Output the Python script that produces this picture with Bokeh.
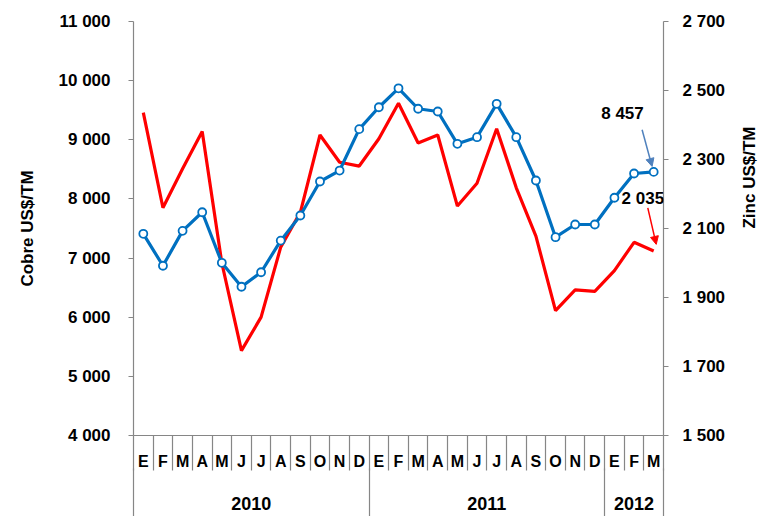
from math import pi
from bokeh.plotting import figure
from bokeh.models import Range1d, LinearAxis, FixedTicker, Label, Arrow, NormalHead
from bokeh.embed import file_html
from bokeh.resources import INLINE

# ---------------- data ----------------
months = ["E", "F", "M", "A", "M", "J", "J", "A", "S", "O", "N", "D",
          "E", "F", "M", "A", "M", "J", "J", "A", "S", "O", "N", "D",
          "E", "F", "M"]
years = ["2010", "2011", "2012"]
year_lengths = [12, 12, 3]

cobre = [7410, 6870, 7460, 7775, 6920, 6515, 6760, 7295, 7720, 8295, 8480, 9180,
         9550, 9870, 9525, 9478, 8932, 9044, 9608, 9044, 8312, 7353, 7568, 7568,
         8020, 8430, 8457]
zinc = [2436, 2160, 2273, 2381, 2000, 1746, 1843, 2046, 2147, 2371, 2292, 2281,
        2360, 2463, 2348, 2371, 2165, 2231, 2389, 2218, 2078, 1862, 1922, 1918,
        1978, 2060, 2035]

cobre_ticks = [4000, 5000, 6000, 7000, 8000, 9000, 10000, 11000]
zinc_ticks = [1500, 1700, 1900, 2100, 2300, 2500, 2700]

last_cobre_label = "8 457"
last_zinc_label = "2 035"

# ---------------- layout ----------------
W, H = 772, 516
FRAME_LEFT, FRAME_RIGHT, FRAME_TOP, FRAME_BOTTOM = 133, 663, 21, 435

FONT = "Liberation Sans"
GRAY = "#868686"
BLUE = "#0070C0"
RED = "#FF0000"

def fmt(v):
    return f"{v:,}".replace(",", " ")

n = len(months)

p = figure(width=W, height=H, output_backend="svg", toolbar_location=None,
           x_axis_type=None, y_axis_type=None,
           x_range=Range1d(-0.5, n - 0.5),
           y_range=Range1d(cobre_ticks[0], cobre_ticks[-1]),
           min_border_left=FRAME_LEFT, min_border_right=W - FRAME_RIGHT,
           min_border_top=FRAME_TOP, min_border_bottom=H - FRAME_BOTTOM)
p.extra_y_ranges = {"zinc": Range1d(zinc_ticks[0], zinc_ticks[-1])}
p.outline_line_color = None
p.xgrid.visible = False
p.ygrid.visible = False

# ---------- value axes ----------
def style_axis(ax, standoff, title_standoff):
    ax.axis_line_color = GRAY
    ax.axis_line_width = 1.2
    ax.major_tick_line_color = GRAY
    ax.major_tick_line_width = 1.2
    ax.major_tick_out = 5
    ax.major_tick_in = 0
    ax.minor_tick_line_color = None
    ax.major_label_text_font = FONT
    ax.major_label_text_font_style = "bold"
    ax.major_label_text_font_size = "17px"
    ax.major_label_text_color = "black"
    ax.major_label_standoff = standoff
    ax.axis_label_text_font = FONT
    ax.axis_label_text_font_style = "bold"
    ax.axis_label_text_font_size = "17px"
    ax.axis_label_text_color = "black"
    ax.axis_label_standoff = title_standoff

left = LinearAxis(ticker=FixedTicker(ticks=cobre_ticks),
                  major_label_overrides={t: fmt(t) for t in cobre_ticks},
                  axis_label="Cobre US$/TM")
style_axis(left, 18, 19)
p.add_layout(left, "left")

right = LinearAxis(y_range_name="zinc", ticker=FixedTicker(ticks=zinc_ticks),
                   major_label_overrides={t: fmt(t) for t in zinc_ticks},
                   axis_label="Zinc US$/TM")
style_axis(right, 14, 21)
if "axis_label_orientation" in right.properties():
    right.axis_label_orientation = pi / 2
p.add_layout(right, "right")

# ---------- category axis: months ----------
centers = list(range(n))
bounds = [i - 0.5 for i in range(n + 1)]
month_axis = LinearAxis(ticker=FixedTicker(ticks=centers, minor_ticks=bounds),
                        major_label_overrides={i: m for i, m in enumerate(months)})
month_axis.axis_line_color = GRAY
month_axis.axis_line_width = 1.2
month_axis.major_tick_line_color = None
month_axis.major_tick_out = 0
month_axis.major_tick_in = 0
month_axis.minor_tick_line_color = GRAY
month_axis.minor_tick_line_width = 1.2
month_axis.minor_tick_out = 35
month_axis.minor_tick_in = 0
month_axis.major_label_text_font = FONT
month_axis.major_label_text_font_style = "bold"
month_axis.major_label_text_font_size = "16px"
month_axis.major_label_text_color = "black"
month_axis.major_label_standoff = -18
p.add_layout(month_axis, "below")

# ---------- category axis: years ----------
ybounds = [-0.5]
for L in year_lengths:
    ybounds.append(ybounds[-1] + L)
ycent = [(ybounds[i] + ybounds[i + 1]) / 2 for i in range(len(years))]
year_axis = LinearAxis(ticker=FixedTicker(ticks=ycent, minor_ticks=ybounds),
                       major_label_overrides={c: y for c, y in zip(ycent, years)})
year_axis.axis_line_color = None
year_axis.major_tick_line_color = None
year_axis.major_tick_out = 0
year_axis.major_tick_in = 0
year_axis.minor_tick_line_color = GRAY
year_axis.minor_tick_line_width = 1.2
year_axis.minor_tick_out = 45
year_axis.minor_tick_in = 4
year_axis.major_label_text_font = FONT
year_axis.major_label_text_font_style = "bold"
year_axis.major_label_text_font_size = "18px"
year_axis.major_label_text_color = "black"
year_axis.major_label_standoff = -21
p.add_layout(year_axis, "below")

# ---------- series ----------
p.line(centers, zinc, y_range_name="zinc", line_color=RED, line_width=3.2)
p.line(centers, cobre, line_color=BLUE, line_width=3.2)
p.scatter(centers, cobre, marker="circle", size=8, fill_color="white",
          line_color=BLUE, line_width=1.8)

# ---------- annotations ----------
last = n - 1
p.add_layout(Label(x=last - 1.59, y=cobre[-1] + 985, text=last_cobre_label,
                   text_align="center", text_baseline="middle", text_color="black",
                   text_font=FONT, text_font_style="bold", text_font_size="17px"))
p.add_layout(Arrow(x_start=last - 0.59, y_start=cobre[-1] + 712, x_end=last - 0.08,
                   y_end=cobre[-1] + 92, line_color="#4F81BD", line_width=1.5,
                   end=NormalHead(size=8, fill_color="#4F81BD", line_color="#4F81BD")))
p.add_layout(Label(x=last - 0.55, y=zinc[-1] + 151, y_range_name="zinc", text=last_zinc_label,
                   text_align="center", text_baseline="middle", text_color="black",
                   text_font=FONT, text_font_style="bold", text_font_size="17px"))
p.add_layout(Arrow(x_start=last - 0.3, y_start=zinc[-1] + 125, x_end=last + 0.13,
                   y_end=zinc[-1] + 19, y_range_name="zinc", line_color=RED, line_width=1.5,
                   end=NormalHead(size=8, fill_color=RED, line_color=RED)))

open("out.html", "w").write(file_html(p, INLINE))
